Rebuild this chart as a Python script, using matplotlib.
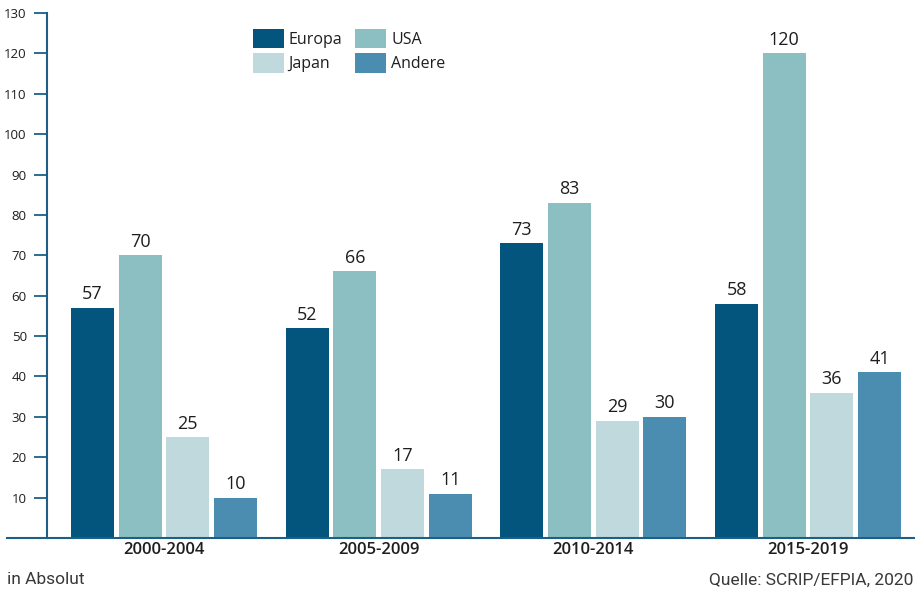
import numpy as np
import matplotlib.pyplot as plt

periods = ["2000-2004", "2005-2009", "2010-2014", "2015-2019"]
regions = ["Europa", "USA", "Japan", "Andere"]
europa = [57, 52, 73, 58]
usa = [70, 66, 83, 120]
japan = [25, 17, 29, 36]
andere = [10, 11, 30, 41]
colors = ["#03557e", "#8bbfc1", "#c0d9dd", "#4a8db0"]
yticks = list(range(10, 131, 10))

plt.rcParams['font.family'] = ['Open Sans', 'DejaVu Sans']
axis_col = "#1d5f86"
text_col = "#1e1e1e"

fig = plt.figure(figsize=(9.15, 5.91), dpi=100)
ax = fig.add_axes([7 / 915, 53 / 591, 908 / 915, 525 / 591])

x = np.arange(len(periods))
step = 0.222
width = 0.2
series = [europa, usa, japan, andere]
for i, (vals, col, name) in enumerate(zip(series, colors, regions)):
    pos = x + (i - 1.5) * step
    bars = ax.bar(pos, vals, width=width, color=col, label=name)
    for b, v in zip(bars, vals):
        ax.text(b.get_x() + b.get_width() / 2, v + 1.1, str(v),
                ha="center", va="bottom", fontsize=13, color=text_col)

ax.set_xlim(-0.731, 3.498)
ax.set_ylim(0, 130)

for s in ["top", "right"]:
    ax.spines[s].set_visible(False)
ax.spines["left"].set_position(("data", -0.545))
ax.spines["left"].set_color(axis_col)
ax.spines["left"].set_linewidth(1.5)
ax.spines["bottom"].set_color(axis_col)
ax.spines["bottom"].set_linewidth(1.5)

ax.set_yticks(yticks)
ax.tick_params(axis="y", length=9.5, width=1.3, color=axis_col, pad=5,
               labelsize=9.5, labelcolor=text_col)
ax.set_xticks(x)
ax.set_xticklabels(periods, fontsize=12, fontweight="semibold", color=text_col)
ax.tick_params(axis="x", length=0, pad=3)

handles, labels = ax.get_legend_handles_labels()
order = [0, 2, 1, 3]
fig.legend([handles[i] for i in order], [labels[i] for i in order],
           ncol=2, frameon=False, fontsize=11.5, loc="upper left",
           bbox_to_anchor=(240 / 915, 1 - 16 / 591), handlelength=1.95,
           handleheight=1.5, handletextpad=0.3, columnspacing=0.8,
           labelspacing=0.3, labelcolor=text_col, borderpad=0.3)

foot = dict(fontsize=12.5, color="#383838", family=['Roboto', 'DejaVu Sans'],
            va="center")
fig.text(7 / 915, 1 - 580 / 591, "in Absolut", ha="left", **foot)
fig.text(913 / 915, 1 - 580 / 591, "Quelle: SCRIP/EFPIA, 2020", ha="right", **foot)

fig.savefig("out.png", dpi=100)
